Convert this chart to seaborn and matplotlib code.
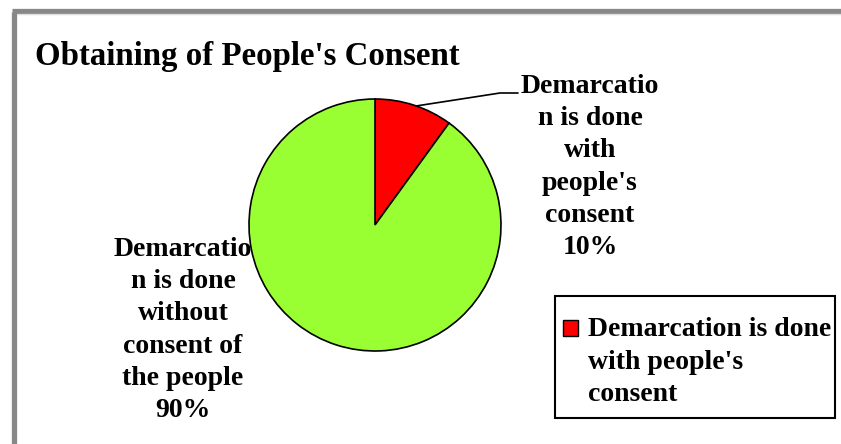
import matplotlib
matplotlib.use("Agg")
import matplotlib.pyplot as plt
import seaborn as sns
from matplotlib.lines import Line2D
from matplotlib.patches import Rectangle

categories = ["Demarcation is done with people's consent",
              "Demarcation is done without consent of the people"]
values = [10, 90]
colors = ["#FF0000", "#99FF33"]
slice_labels = ["Demarcatio\nn is done\nwith\npeople's\nconsent\n10%",
                "Demarcatio\nn is done\nwithout\nconsent of\nthe people\n90%"]
legend_label = "Demarcation is done\nwith people's\nconsent"
title = "Obtaining of People's Consent"

sns.set_theme(style="white")
plt.rcParams["font.family"] = ["Liberation Serif", "DejaVu Serif"]
plt.rcParams["text.color"] = "black"

W, H = 841, 444
fig = plt.figure(figsize=(W / 100, H / 100), dpi=100)
fig.patch.set_facecolor("white")

def fx(px):
    return px / W

def fy(py):
    return 1 - py / H

# pie axes: center (375,225), radius 126 px
cx, cy, r = 375, 225, 126
ax = fig.add_axes([fx(cx - r), fy(cy + r), 2 * r / W, 2 * r / H])
wedges, _ = ax.pie(values, colors=colors, startangle=90, counterclock=False,
                   radius=1.0,
                   wedgeprops=dict(edgecolor="black", linewidth=1.2))
ax.set_xlim(-1, 1)
ax.set_ylim(-1, 1)
ax.set_aspect("auto")
ax.axis("off")

def dx(px):
    return (px - cx) / r

def dy(py):
    return (cy - py) / r

# leader line for the small slice
ax.add_line(Line2D([dx(416), dx(500), dx(518)], [dy(106), dy(93), dy(93)],
                   color="black", linewidth=1.2, clip_on=False))

fs = 20
ls = 1.38
fig.text(fx(590), fy(167), slice_labels[0], ha="center", va="center",
         fontsize=fs, fontweight="bold", linespacing=ls, color="black")
fig.text(fx(183), fy(330), slice_labels[1], ha="center", va="center",
         fontsize=fs, fontweight="bold", linespacing=ls, color="black")

fig.text(fx(35), fy(57), title, ha="left", va="center",
         fontsize=23.7, fontweight="bold", color="black")

# legend box
fig.patches.append(Rectangle((fx(555), fy(418)), fx(835) - fx(555), fy(296) - fy(418),
                             transform=fig.transFigure, facecolor="white",
                             edgecolor="black", linewidth=1.5))
fig.patches.append(Rectangle((fx(563), fy(336)), fx(578) - fx(563), fy(320) - fy(336),
                             transform=fig.transFigure, facecolor=colors[0],
                             edgecolor="black", linewidth=1.0))
fig.text(fx(588), fy(362), legend_label, ha="left", va="center",
         fontsize=fs, fontweight="bold", linespacing=ls, color="black")

# outer gray frame
fig.add_artist(Line2D([fx(14), fx(14)], [fy(444), fy(12)], transform=fig.transFigure,
                      color="#888888", linewidth=3.8, solid_capstyle="butt"))
fig.add_artist(Line2D([fx(12), fx(841)], [fy(11.5), fy(11.5)], transform=fig.transFigure,
                      color="#888888", linewidth=3.8, solid_capstyle="butt"))
fig.add_artist(Line2D([fx(16.5), fx(841)], [fy(14.5), fy(14.5)], transform=fig.transFigure,
                      color="#dddddd", linewidth=1.0, solid_capstyle="butt"))

fig.savefig("out.png", dpi=100, facecolor="white")
